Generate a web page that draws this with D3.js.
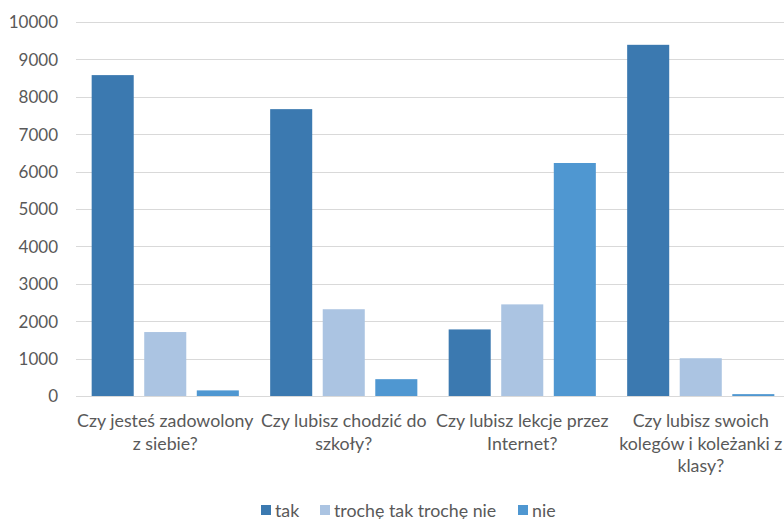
<!DOCTYPE html>
<html>
<head>
<meta charset="utf-8">
<script src="https://cdn.jsdelivr.net/npm/d3@7"></script>
<style>
  html, body { margin: 0; padding: 0; background: #fff; overflow: hidden; }
  svg { display: block; }
  text { font-family: Lato, "Open Sans", sans-serif; fill: #595959; }
</style>
</head>
<body>
<svg id="chart" width="784" height="519"></svg>
<script>
const categories = [
  "Czy jesteś zadowolony\nz siebie?",
  "Czy lubisz chodzić do\nszkoły?",
  "Czy lubisz lekcje przez\nInternet?",
  "Czy lubisz swoich\nkolegów i koleżanki z\nklasy?"
];
const seriesNames = ["tak", "trochę tak trochę nie", "nie"];
const takValues = [8580, 7670, 1780, 9390];
const trocheValues = [1710, 2320, 2450, 1010];
const nieValues = [150, 450, 6230, 50];
const seriesColors = ["#3b79b0", "#abc4e2", "#4f97d1"];
const yTicks = [0, 1000, 2000, 3000, 4000, 5000, 6000, 7000, 8000, 9000, 10000];

const seriesValues = [takValues, trocheValues, nieValues];
const svg = d3.select("#chart");

const plotLeft = 76, plotRight = 790, plotTop = 22, plotBottom = 396;

const x0 = d3.scaleBand().domain(d3.range(categories.length)).range([plotLeft, plotRight]).padding(0);
const x1 = d3.scaleBand().domain(d3.range(seriesNames.length)).range([0, x0.bandwidth()])
  .paddingInner(0.2).paddingOuter(0.298);
const y = d3.scaleLinear().domain([0, 10000]).range([plotBottom, plotTop]);

// gridlines
svg.append("g").selectAll("line").data(yTicks).join("line")
  .attr("x1", plotLeft).attr("x2", plotRight)
  .attr("y1", d => Math.round(y(d)) + 0.5).attr("y2", d => Math.round(y(d)) + 0.5)
  .attr("stroke", "#d9d9d9").attr("stroke-width", 1);

// y axis labels
const yAxis = d3.axisLeft(y).tickValues(yTicks).tickSize(0).tickPadding(18).tickFormat(d3.format("d"));
const yg = svg.append("g").attr("transform", `translate(${plotLeft},0.5)`).call(yAxis);
yg.select(".domain").remove();
yg.selectAll("text").style("font-family", "Lato, 'Open Sans', sans-serif").style("font-size", "17px").attr("fill", "#595959");

// bars
const groups = svg.append("g").selectAll("g").data(categories).join("g")
  .attr("transform", (d, i) => `translate(${x0(i)},0)`);
groups.selectAll("rect").data((d, i) => seriesValues.map((vals, s) => ({ s, v: vals[i] }))).join("rect")
  .attr("x", d => x1(d.s))
  .attr("width", x1.bandwidth())
  .attr("y", d => y(d.v))
  .attr("height", d => y(0) - y(d.v))
  .attr("fill", d => seriesColors[d.s]);

// baseline
svg.append("line").attr("x1", plotLeft).attr("x2", plotRight)
  .attr("y1", Math.round(y(0)) + 0.5).attr("y2", Math.round(y(0)) + 0.5)
  .attr("stroke", "#d9d9d9").attr("stroke-width", 1);

// category labels
const xAxis = d3.axisBottom(x0).tickSize(0).tickFormat("");
const xg = svg.append("g").attr("transform", `translate(0,${plotBottom})`).call(xAxis);
xg.select(".domain").remove();
const lineH = 22.5;
categories.forEach((c, i) => {
  const t = svg.append("text")
    .attr("x", x0(i) + x0.bandwidth() / 2)
    .attr("y", 427)
    .attr("text-anchor", "middle")
    .style("font-size", "17.8px");
  c.split("\n").forEach((ln, j) => {
    t.append("tspan").attr("x", x0(i) + x0.bandwidth() / 2).attr("y", 427 + j * lineH).text(ln);
  });
});

// legend
const legendX = [261, 320, 518];
const lg = svg.append("g").selectAll("g").data(seriesNames).join("g")
  .attr("transform", (d, i) => `translate(${legendX[i]},505)`);
lg.append("rect").attr("width", 10).attr("height", 10).attr("fill", (d, i) => seriesColors[i]);
lg.append("text").attr("x", 14).attr("y", 11.5).style("font-size", "17.8px").text(d => d);
</script>
</body>
</html>
